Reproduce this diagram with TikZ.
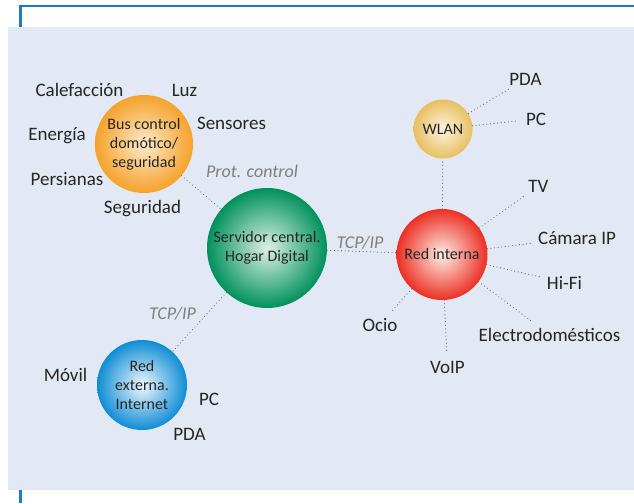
\documentclass[tikz,border=0pt]{standalone}
\usepackage{fontspec}
\setmainfont{Carlito}
\usepackage{xcolor}
\usetikzlibrary{positioning}

\definecolor{panel}{HTML}{E2E8F4}
\definecolor{frame}{HTML}{1B7DC3}
\definecolor{ink}{HTML}{262626}
\definecolor{protogray}{HTML}{7F7F7F}
\definecolor{dotgray}{HTML}{5A5A5A}
% glow colours: light centre, strong rim
\definecolor{busin}{HTML}{FDEACB}\definecolor{busout}{HTML}{F5A22A}
\definecolor{srvin}{HTML}{DDF1E6}\definecolor{srvout}{HTML}{00915C}
\definecolor{redin}{HTML}{FEEEE6}\definecolor{redout}{HTML}{EC2F23}
\definecolor{wlanin}{HTML}{FDF4E0}\definecolor{wlanout}{HTML}{E8BF60}
\definecolor{extin}{HTML}{F0F8FD}\definecolor{extout}{HTML}{0E8DD5}

\colorlet{glowin}{white}\colorlet{glowout}{black}
\pgfdeclareradialshading[glowin,glowout]{glow}{\pgfpointorigin}{color(0bp)=(glowin); color(25bp)=(glowout); color(50bp)=(glowout)}

\begin{document}
\begin{tikzpicture}[x=1pt,y=-1pt,
    hub/.style n args={3}{circle, minimum size=#1, inner sep=0pt, align=center,
      font=\fontsize{16}{19}\selectfont, text=ink,
      /utils/exec={\colorlet{glowin}{#2}\colorlet{glowout}{#3}}, shading=glow},
    tag/.style={font=\fontsize{19}{21}\selectfont, text=ink, anchor=base, inner sep=2pt},
    proto/.style={font=\itshape\fontsize{18}{20}\selectfont, text=protogray, anchor=base},
    link/.style={draw=dotgray, line width=1.1pt, line cap=round, dash pattern=on 0pt off 3.6pt}]
  \useasboundingbox (0,0) rectangle (634,503);
  % frame and panel
  \fill[panel] (8,27) rectangle (634,490);
  \draw[frame, line width=2.5pt] (20.5,27) |- (634,6);
  \draw[frame, line width=2.5pt] (20.5,490) -- (20.5,503);

  % hubs
  \node[hub={98}{busin}{busout}] (bus) at (144,144) {Bus control\\domótico/\\seguridad};
  \node[hub={120}{srvin}{srvout}] (srv) at (267,248) {Servidor central.\\Hogar Digital};
  \node[hub={91}{redin}{redout}] (red) at (442,254.5) {Red interna};
  \node[hub={59}{wlanin}{wlanout}] (wlan) at (443,129) {WLAN};
  \node[hub={90}{extin}{extout}] (ext) at (142,385) {Red\\externa.\\Internet};

  % domotic bus
  \node[tag] (calef) at (79.5,96) {Calefacción};
  \node[tag] (luz) at (184.5,96) {Luz};
  \node[tag] (sens) at (231.5,129) {Sensores};
  \node[tag] (energ) at (57,140) {Energía};
  \node[tag] (pers) at (67,185.5) {Persianas};
  \node[tag] (segur) at (142.5,213) {Seguridad};

  % external network
  \node[tag] (movil) at (65.5,381) {Móvil};
  \node[tag] (extpc) at (209,405) {PC};
  \node[tag] (extpda) at (189.5,440) {PDA};

  % wireless
  \node[tag] (wpda) at (525.5,85) {PDA};
  \node[tag] (wpc) at (536,125) {PC};

  % internal network
  \node[tag] (tv) at (538.5,192) {TV};
  \node[tag] (cam) at (577,244) {Cámara IP};
  \node[tag] (hifi) at (564.5,289) {Hi-Fi};
  \node[tag] (elec) at (549.5,341) {Electrodomésticos};
  \node[tag] (voip) at (447.5,373) {VoIP};
  \node[tag] (ocio) at (380,331) {Ocio};

  % protocols
  \node[proto] (pctl) at (252,177) {Prot. control};
  \node[proto] (tcpa) at (360,248) {TCP/IP};
  \node[proto] (tcpb) at (172.5,319) {TCP/IP};

  \draw[link] (bus) -- (srv);
  \draw[link] (srv) -- (red);
  \draw[link] (srv) -- (ext);
  \draw[link] (red) -- (wlan);
  \draw[link, shorten >=3pt] (wlan) -- (wpda);
  \draw[link, shorten >=6pt] (wlan) -- (wpc);
  \draw[link, shorten >=4pt] (red) -- (tv);
  \draw[link, shorten >=5pt] (red) -- (cam);
  \draw[link, shorten >=5pt] (red) -- (hifi);
  \draw[link, shorten >=8pt] (red) -- (elec);
  \draw[link, shorten >=6pt] (red) -- (voip);
  \draw[link, shorten >=4pt] (red) -- (ocio);
\end{tikzpicture}
\end{document}
